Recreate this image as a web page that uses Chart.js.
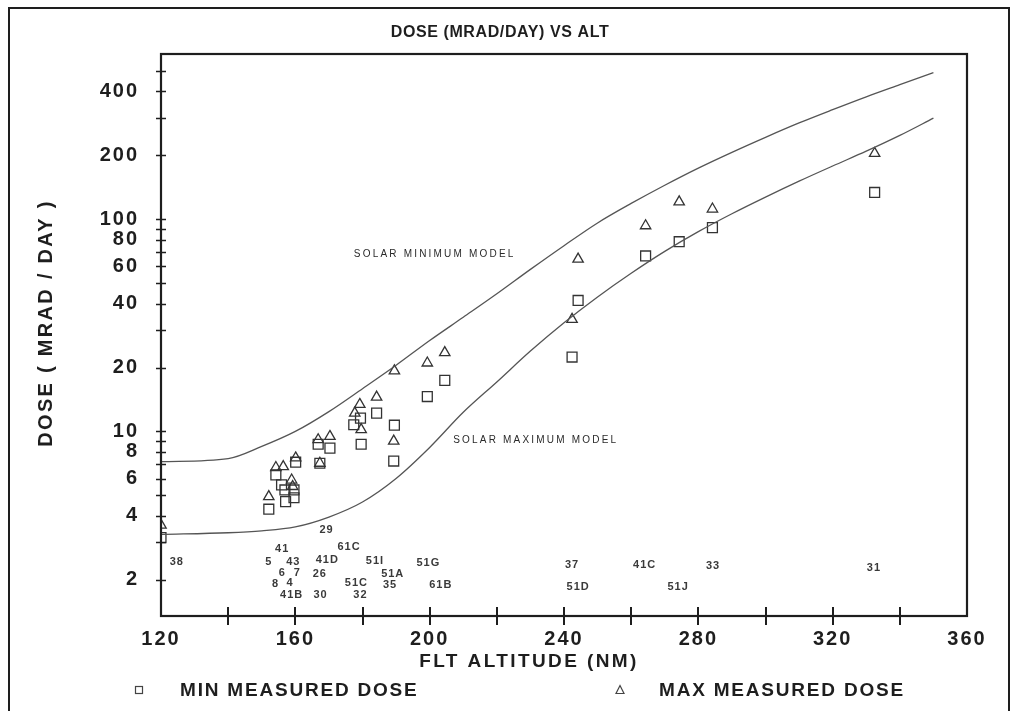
<!DOCTYPE html>
<html>
<head>
<meta charset="utf-8">
<title>Dose (mrad/day) vs Alt</title>
<script src="https://cdn.jsdelivr.net/npm/chart.js@4.4.1/dist/chart.umd.min.js"></script>
<style>
  html, body { margin: 0; padding: 0; background: #fff; }
  #wrap { width: 1016px; height: 711px; position: relative; }
</style>
</head>
<body>
<div id="wrap"><canvas id="doseChart"></canvas></div>
<script>
// --- values: altitude in NM, dose in mrad/day ---
const solarMinAlt  = [120, 140, 150, 160, 170, 180, 190, 200, 210, 220, 230, 240, 250, 260, 270, 280, 290, 300, 310, 320, 330, 340, 350];
const solarMinDose = [7.2, 7.45, 8.5, 10.0, 12.4, 15.9, 20.5, 26.8, 34.5, 44.5, 58, 75, 96, 118.6, 144.5, 174, 206.5, 243, 284, 328, 377, 430, 490];

const solarMaxAlt  = [120, 140, 150, 160, 170, 180, 190, 200, 210, 220, 230, 240, 250, 260, 270, 280, 290, 300, 310, 320, 330, 340, 350];
const solarMaxDose = [3.27, 3.33, 3.4, 3.55, 3.95, 4.65, 6.0, 8.4, 12.3, 17.1, 23.9, 32.5, 43, 55.6, 70.5, 87.3, 106, 127, 151, 178, 209, 248, 299];

const minAlt  = [120, 152.1, 154.2, 155.9, 156.9, 157.1, 159.6, 159.6, 160.1, 166.8, 167.3, 170.3, 177.4, 179.4, 179.6, 184.2, 189.5, 189.3, 199.3, 204.5, 242.4, 244.2, 264.3, 274.3, 284.2, 332.5];
const minDose = [3.16, 4.30, 6.24, 5.6, 5.3, 4.67, 5.3, 4.87, 7.16, 8.7, 7.08, 8.34, 10.75, 11.55, 8.7, 12.2, 10.7, 7.25, 14.6, 17.4, 22.4, 41.4, 67.1, 78.3, 91.2, 133.6];

const maxAlt  = [120, 152.1, 154.2, 156.4, 158.9, 159.2, 160.1, 166.8, 167.3, 170.3, 177.7, 179.2, 179.6, 184.2, 189.5, 189.3, 199.3, 204.5, 242.4, 244.2, 264.3, 274.3, 284.2, 332.5];
const maxDose = [3.62, 4.93, 6.76, 6.83, 5.9, 5.5, 7.5, 9.14, 7.08, 9.47, 12.2, 13.4, 10.2, 14.5, 19.3, 9.0, 21.0, 23.5, 33.7, 64.8, 93.1, 120.7, 111.6, 204];

// flight ids written under the points (anchored in data units)
const flightNames = ['29', '61C', '41', '5', '43', '41D', '51I', '51G', '6', '7', '26', '51A', '8', '4', '51C', '35', '61B', '41B', '30', '32', '38', '37', '51D', '41C', '51J', '33', '31'];
const flightAlt   = [169.3, 176.0, 156.1, 152.1, 159.4, 169.5, 183.7, 199.6, 156.1, 160.6, 167.3, 189.0, 154.1, 158.4, 178.2, 188.2, 203.3, 158.9, 167.5, 179.4, 124.7, 242.4, 244.2, 264.0, 274.0, 284.4, 332.3];
const flightDose  = [3.45, 2.84, 2.78, 2.43, 2.43, 2.49, 2.45, 2.39, 2.16, 2.16, 2.13, 2.12, 1.91, 1.94, 1.94, 1.89, 1.89, 1.70, 1.70, 1.69, 2.43, 2.36, 1.85, 2.35, 1.84, 2.32, 2.28];

const modelNames = ['SOLAR MINIMUM MODEL', 'SOLAR MAXIMUM MODEL'];
const modelAlt   = [201.5, 231.6];
const modelDose  = [68.5, 9.07];

// axes
const xTickValues = [120, 140, 160, 180, 200, 220, 240, 260, 280, 300, 320, 340, 360];
const xTickLabels = [120, 160, 200, 240, 280, 320, 360];
const yTickValues = [2, 3, 4, 5, 6, 7, 8, 9, 10, 20, 30, 40, 50, 60, 70, 80, 90, 100, 200, 300, 400, 500];
const yTickLabels = [2, 4, 6, 8, 10, 20, 40, 60, 80, 100, 200, 400];

const FONT = '"Liberation Sans", Arial, sans-serif';
const INK = '#1e1e1e';

const toPoints = (xs, ys) => xs.map((x, i) => ({ x: x, y: ys[i] }));

function drawText(ctx, s, x, y, font, align, spacing, color) {
    ctx.save();
    ctx.font = font;
    ctx.letterSpacing = spacing || '0px';
    ctx.fillStyle = color || INK;
    ctx.textAlign = align || 'center';
    ctx.textBaseline = 'middle';
    ctx.fillText(s, x, y);
    ctx.restore();
}

const decor = {
    id: 'decor',
    beforeDraw(chart) {
        const ctx = chart.ctx;
        ctx.save();
        ctx.fillStyle = '#fff';
        ctx.fillRect(0, 0, chart.width, chart.height);
        ctx.restore();
        // spaced-out digits on both axes
        ctx.letterSpacing = '2px';
    },
    afterDraw(chart) {
        const ctx = chart.ctx;
        ctx.letterSpacing = '0px';
        const a = chart.chartArea;
        const xs = chart.scales.x, ys = chart.scales.y;

        // plot frame
        ctx.save();
        ctx.strokeStyle = INK;
        ctx.lineWidth = 2.2;
        ctx.strokeRect(a.left, a.top, a.right - a.left, a.bottom - a.top);

        // tick marks crossing the axes
        ctx.lineWidth = 1.3;
        ctx.beginPath();
        yTickValues.forEach(v => {
            const py = Math.round(ys.getPixelForValue(v)) + 0.5;
            ctx.moveTo(a.left - 5, py);
            ctx.lineTo(a.left + 5, py);
        });
        ctx.stroke();
        ctx.lineWidth = 2;
        ctx.beginPath();
        xTickValues.slice(1, -1).forEach(v => {
            const px = Math.round(xs.getPixelForValue(v));
            ctx.moveTo(px, a.bottom - 9);
            ctx.lineTo(px, a.bottom + 9);
        });
        ctx.stroke();

        // outer figure border
        ctx.lineWidth = 2;
        ctx.strokeRect(9, 8, 1000, 720);
        ctx.restore();

        // flight ids
        flightNames.forEach((n, i) => {
            drawText(ctx, n, xs.getPixelForValue(flightAlt[i]), ys.getPixelForValue(flightDose[i]),
                'bold 11px ' + FONT, 'center', '1px', '#3a3a3a');
        });
        modelNames.forEach((n, i) => {
            drawText(ctx, n, xs.getPixelForValue(modelAlt[i]), ys.getPixelForValue(modelDose[i]),
                '10px ' + FONT, 'center', '2.2px', '#2a2a2a');
        });

        // titles
        drawText(ctx, 'DOSE (MRAD/DAY) VS ALT', 500, 33, 'bold 16px ' + FONT, 'center', '0.6px');
        drawText(ctx, 'FLT ALTITUDE (NM)', 529, 662, 'bold 19px ' + FONT, 'center', '2.4px');
        ctx.save();
        ctx.translate(46, 323);
        ctx.rotate(-Math.PI / 2);
        drawText(ctx, 'DOSE ( MRAD / DAY )', 0, 0, 'bold 20px ' + FONT, 'center', '2.3px');
        ctx.restore();

        // legend
        ctx.save();
        ctx.strokeStyle = '#444';
        ctx.lineWidth = 1.2;
        ctx.strokeRect(135.5, 686.5, 7, 7);
        ctx.beginPath();
        ctx.moveTo(620, 685.5);
        ctx.lineTo(624, 693.5);
        ctx.lineTo(616, 693.5);
        ctx.closePath();
        ctx.stroke();
        ctx.restore();
        drawText(ctx, 'MIN MEASURED DOSE', 180, 691, 'bold 19px ' + FONT, 'left', '1.8px');
        drawText(ctx, 'MAX MEASURED DOSE', 659, 691, 'bold 19px ' + FONT, 'left', '1.8px');
    }
};

const ctx = document.getElementById('doseChart');

new Chart(ctx, {
    type: 'scatter',
    data: {
        datasets: [
            {
                label: 'Solar minimum model',
                data: toPoints(solarMinAlt, solarMinDose),
                showLine: true,
                borderColor: '#555',
                borderWidth: 1.3,
                pointRadius: 0,
                cubicInterpolationMode: 'monotone'
            },
            {
                label: 'Solar maximum model',
                data: toPoints(solarMaxAlt, solarMaxDose),
                showLine: true,
                borderColor: '#555',
                borderWidth: 1.3,
                pointRadius: 0,
                cubicInterpolationMode: 'monotone'
            },
            {
                label: 'MIN MEASURED DOSE',
                data: toPoints(minAlt, minDose),
                pointStyle: 'rect',
                pointRadius: 7,
                pointBorderWidth: 1.3,
                borderColor: '#333',
                backgroundColor: 'rgba(0,0,0,0)'
            },
            {
                label: 'MAX MEASURED DOSE',
                data: toPoints(maxAlt, maxDose),
                pointStyle: 'triangle',
                pointRadius: 6,
                pointBorderWidth: 1.3,
                borderColor: '#333',
                backgroundColor: 'rgba(0,0,0,0)'
            }
        ]
    },
    options: {
        responsive: true,
        maintainAspectRatio: false,
        animation: false,
        layout: { padding: { left: 0, top: 54, right: 49, bottom: 0 } },
        plugins: {
            legend: { display: false },
            title: { display: false },
            tooltip: { enabled: false }
        },
        scales: {
            x: {
                type: 'linear',
                min: 120,
                max: 360,
                afterBuildTicks: (scale) => { scale.ticks = xTickValues.map(v => ({ value: v })); },
                afterFit: (scale) => { scale.height = 95; },
                grid: { display: false, drawTicks: false },
                border: { display: false },
                ticks: {
                    padding: 11,
                    autoSkip: false,
                    maxRotation: 0,
                    color: INK,
                    font: { family: FONT, size: 20, weight: 'bold' },
                    callback: (v) => xTickLabels.includes(v) ? String(v) : ''
                }
            },
            y: {
                type: 'logarithmic',
                min: 1.35,
                max: 600,
                afterBuildTicks: (scale) => { scale.ticks = yTickValues.map(v => ({ value: v })); },
                afterFit: (scale) => { scale.width = 161; },
                grid: { display: false, drawTicks: false },
                border: { display: false },
                ticks: {
                    padding: 22,
                    autoSkip: false,
                    color: INK,
                    font: { family: FONT, size: 20, weight: 'bold' },
                    callback: (v) => yTickLabels.includes(v) ? String(v) : ''
                }
            }
        }
    },
    plugins: [decor]
});
</script>
</body>
</html>
